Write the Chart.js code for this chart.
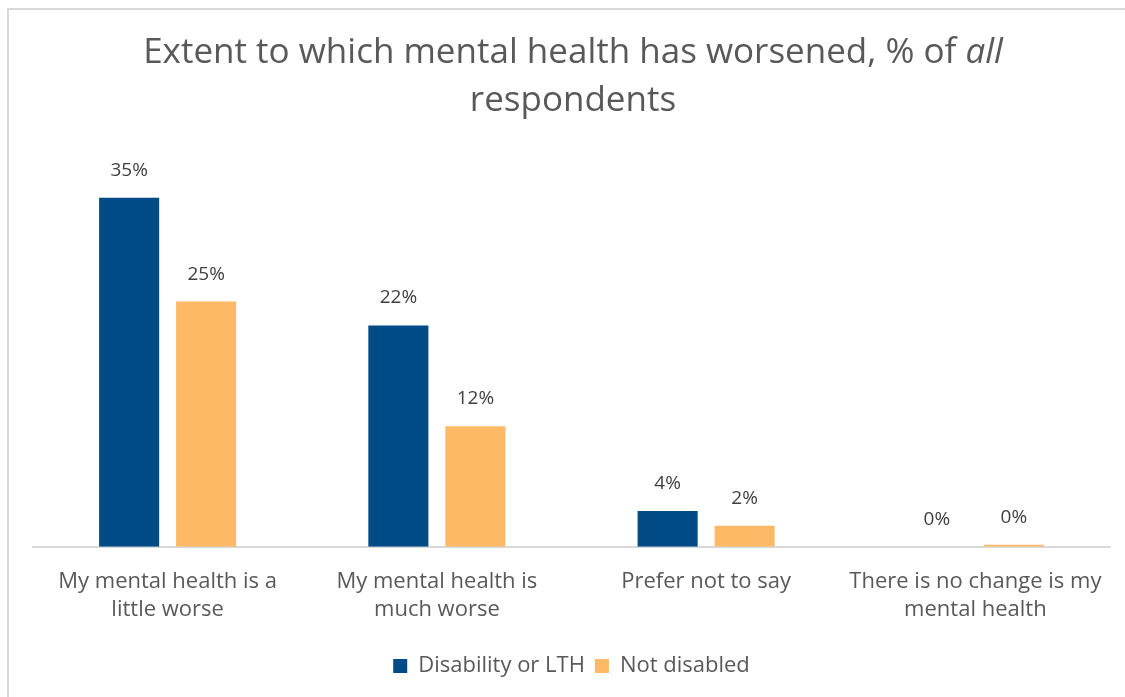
<!DOCTYPE html>
<html>
<head>
<meta charset="utf-8">
<script src="https://cdn.jsdelivr.net/npm/chart.js@4.4.1/dist/chart.umd.min.js"></script>
<style>
  html, body { margin: 0; padding: 0; background: #ffffff; }
  #wrap { width: 1125px; height: 697px; }
  canvas { display: block; }
</style>
</head>
<body>
<div id="wrap"><canvas id="chart" width="1125" height="697"></canvas></div>
<script>
// Response categories (x-axis), split over two lines where the label wraps
const categories = [
  ['My mental health is a', 'little worse'],
  ['My mental health is', 'much worse'],
  ['Prefer not to say'],
  ['There is no change is my', 'mental health']
];

// Share of all respondents, in percent
const disabilityValues = [35.0, 22.2, 3.6, 0.0];
const notDisabledValues = [24.6, 12.1, 2.1, 0.2];

const seriesNames = ['Disability or LTH', 'Not disabled'];
const titleMain = 'Extent to which mental health has worsened, % of ';
const titleItalic = 'all';
const titleSecond = 'respondents';

const FONT = '"Open Sans", "Noto Sans", sans-serif';
const TEXT_GREY = '#595959';

// White background plus the thin frame along the top and left edges
const framePlugin = {
  id: 'frame',
  beforeDraw(chart) {
    const ctx = chart.ctx;
    ctx.save();
    ctx.fillStyle = '#ffffff';
    ctx.fillRect(0, 0, chart.width, chart.height);
    ctx.strokeStyle = '#d9d9d9';
    ctx.lineWidth = 2;
    ctx.beginPath();
    ctx.moveTo(8, chart.height);
    ctx.lineTo(8, 9);
    ctx.lineTo(chart.width, 9);
    ctx.stroke();
    ctx.restore();
  }
};

// Two-line title with an italic word in the first line
const titlePlugin = {
  id: 'mixedTitle',
  afterDraw(chart) {
    const ctx = chart.ctx;
    const cx = 573;
    ctx.save();
    ctx.fillStyle = TEXT_GREY;
    ctx.textBaseline = 'alphabetic';
    const normalFont = '35px ' + FONT;
    const italicFont = 'italic 35px ' + FONT;
    ctx.font = normalFont;
    const w1 = ctx.measureText(titleMain).width;
    ctx.font = italicFont;
    const w2 = ctx.measureText(titleItalic).width;
    const x = cx - (w1 + w2) / 2;
    ctx.textAlign = 'left';
    ctx.font = normalFont;
    ctx.fillText(titleMain, x, 63);
    ctx.font = italicFont;
    ctx.fillText(titleItalic, x + w1, 63);
    ctx.font = normalFont;
    ctx.textAlign = 'center';
    ctx.fillText(titleSecond, cx, 111);
    ctx.restore();
  }
};

// Percentage labels above each bar
const valueLabelPlugin = {
  id: 'valueLabels',
  afterDatasetsDraw(chart) {
    const ctx = chart.ctx;
    ctx.save();
    ctx.fillStyle = '#404040';
    ctx.font = '19px ' + FONT;
    ctx.textAlign = 'center';
    ctx.textBaseline = 'alphabetic';
    chart.data.datasets.forEach((ds, i) => {
      const meta = chart.getDatasetMeta(i);
      meta.data.forEach((bar, j) => {
        const label = Math.round(ds.data[j]) + '%';
        ctx.fillText(label, bar.x, bar.y - 22);
      });
    });
    ctx.restore();
  }
};

new Chart(document.getElementById('chart'), {
  type: 'bar',
  data: {
    labels: categories,
    datasets: [
      {
        label: seriesNames[0],
        data: disabilityValues,
        backgroundColor: '#004A86',
        categoryPercentage: 0.572,
        barPercentage: 0.78
      },
      {
        label: seriesNames[1],
        data: notDisabledValues,
        backgroundColor: '#FDB966',
        categoryPercentage: 0.572,
        barPercentage: 0.78
      }
    ]
  },
  options: {
    responsive: false,
    animation: false,
    devicePixelRatio: 1,
    layout: { padding: { left: 33, right: 15, top: 148, bottom: 10 } },
    plugins: {
      title: { display: false },
      tooltip: { enabled: false },
      legend: {
        position: 'bottom',
        labels: {
          boxWidth: 14,
          boxHeight: 14,
          padding: 10,
          color: TEXT_GREY,
          font: { family: FONT, size: 22 }
        }
      }
    },
    scales: {
      x: {
        grid: { display: false, drawTicks: false },
        border: { color: '#d9d9d9', width: 2 },
        ticks: {
          color: TEXT_GREY,
          padding: 20.5,
          font: { family: FONT, size: 22, lineHeight: 1.3 },
          maxRotation: 0,
          autoSkip: false
        }
      },
      y: {
        display: false,
        min: 0,
        max: 40
      }
    }
  },
  plugins: [framePlugin, titlePlugin, valueLabelPlugin]
});
</script>
</body>
</html>
